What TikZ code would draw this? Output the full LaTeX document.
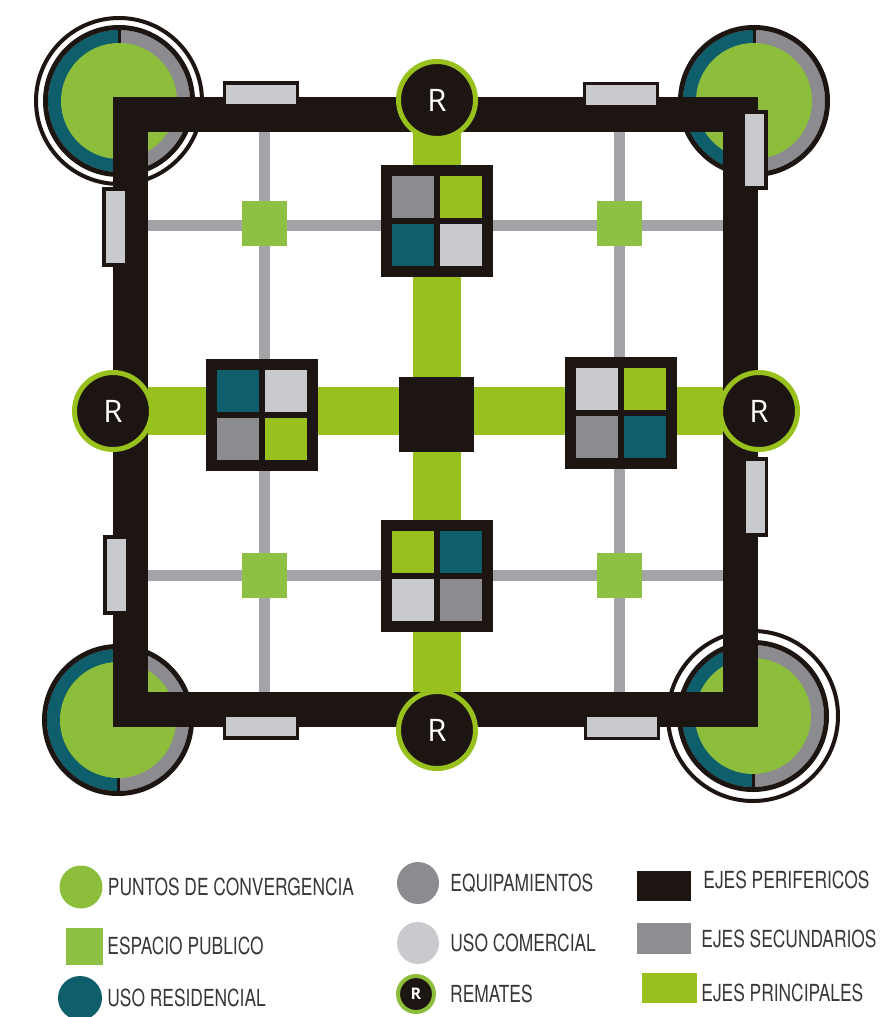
\documentclass[tikz,border=0pt]{standalone}
\usepackage{fontspec}
\newfontfamily\legendfont{TeX Gyre Heros}[FakeStretch=0.74]
\newfontfamily\rfont{Open Sans}
\usetikzlibrary{calc,positioning}
\definecolor{ink}{HTML}{1D1512}
\definecolor{convgreen}{HTML}{8CBE3C}
\definecolor{parkgreen}{HTML}{8DC043}
\definecolor{axisgreen}{HTML}{98C11E}
\definecolor{resteal}{HTML}{0F5E6B}
\definecolor{equipgrey}{HTML}{8C8B90}
\definecolor{comgrey}{HTML}{C9CACE}
\definecolor{linegrey}{HTML}{A4A3A8}
\definecolor{secgrey}{HTML}{8E8E92}
\definecolor{legink}{HTML}{383838}

\tikzset{
  remate/.style={circle, draw=axisgreen, line width=5pt, fill=ink, minimum size=77pt,
    inner sep=0pt, text=white, font=\rfont\fontsize{31}{31}\selectfont},
  quad/.style={rectangle, fill=ink, minimum size=112pt, inner sep=0pt},
  cell/.style={rectangle, fill=#1, minimum size=42pt, inner sep=0pt},
  pubsq/.style={rectangle, fill=parkgreen, minimum size=45pt, inner sep=0pt},
  core/.style={rectangle, fill=ink, minimum size=75pt, inner sep=0pt},
  tabh/.style={rectangle, draw=ink, line width=3.5pt, fill=comgrey,
    minimum width=73pt, minimum height=23pt, inner sep=0pt},
  tabv/.style={rectangle, draw=ink, line width=3.5pt, fill=comgrey,
    minimum width=22.5pt, minimum height=76pt, inner sep=0pt},
  mainaxis/.style={axisgreen, line width=48pt},
  secaxis/.style={linegrey, line width=11pt},
  legtext/.style={font=\legendfont\fontsize{23.5}{23.5}\selectfont, text=legink, inner sep=0pt},
}

% block of four uses: name, centre, top left, top right, bottom left, bottom right
\newcommand{\quadblock}[6]{%
  \node[quad] (#1) at (#2) {};
  \node[cell=#3] (#1-tl) at ($(#1)+(-24,-24)$) {};
  \node[cell=#4] (#1-tr) at ($(#1)+(24,-24)$) {};
  \node[cell=#5] (#1-bl) at ($(#1)+(-24,24)$) {};
  \node[cell=#6] (#1-br) at ($(#1)+(24,24)$) {};
}

% convergence point at a corner of the frame
\newcommand{\convpoint}[1]{%
  \fill[equipgrey] (#1) circle[radius=71];
  \begin{scope}
    \clip (#1) ++(-72,-72) rectangle ++(72,144);
    \fill[resteal] (#1) circle[radius=71];
  \end{scope}
  \draw[ink, line width=3pt] (#1) ++(0,-72) -- ++(0,144);
  \fill[convgreen] (#1) circle[radius=58];
  \draw[ink, line width=5pt] (#1) circle[radius=73.5];
}

\begin{document}
\begin{tikzpicture}[x=1pt, y=-1pt]
  \fill[white] (0,0) rectangle (896,1017);
  \useasboundingbox (0,0) rectangle (896,1017);

  % corners
  \coordinate (TL) at (119,101);
  \coordinate (TR) at (754,101);
  \coordinate (BL) at (118,720);
  \coordinate (BR) at (753,716);
  \convpoint{TL}
  \convpoint{TR}
  \convpoint{BL}
  \convpoint{BR}
  \draw[ink, line width=4pt] (TL) circle[radius=83];
  \draw[ink, line width=4pt] (BR) circle[radius=85];

  % secondary axes
  \coordinate (s1a) at (264,114);  \coordinate (s1b) at (264,710);
  \coordinate (s2a) at (619,114);  \coordinate (s2b) at (619,710);
  \coordinate (s3a) at (130,225);  \coordinate (s3b) at (740,225);
  \coordinate (s4a) at (130,575);  \coordinate (s4b) at (740,575);
  \draw[secaxis] (s1a) -- (s1b);
  \draw[secaxis] (s2a) -- (s2b);
  \draw[secaxis] (s3a) -- (s3b);
  \draw[secaxis] (s4a) -- (s4b);

  % main axes
  \coordinate (pTop) at (437,100);
  \coordinate (pBot) at (437,730);
  \coordinate (pLeft) at (113,411);
  \coordinate (pRight) at (759,411);
  \draw[mainaxis] (pTop) -- (pBot);
  \draw[mainaxis] (pLeft) -- (pRight);

  % peripheral frame
  \draw[ink, line width=35pt] (130.5,114) rectangle (740,709.5);

  \node[tabh] (tabTL) at (261,94.5) {};
  \node[tabh] (tabTR) at (621,95) {};
  \node[tabv] (tabLU) at (115,227) {};
  \node[tabv] (tabRU) at (754.5,150) {};
  \node[tabv] (tabLL) at (116,575) {};
  \node[tabv] (tabRL) at (755,497) {};
  \node[tabh] (tabBL) at (261,726.5) {};
  \node[tabh] (tabBR) at (622,727) {};

  % public space
  \node[pubsq] (pub1) at (264,223) {};
  \node[pubsq] (pub2) at (619,223) {};
  \node[pubsq] (pub3) at (264,575) {};
  \node[pubsq] (pub4) at (619,575) {};

  \node[core] (core) at (436,414) {};

  \quadblock{qTop}{437,221}{equipgrey}{axisgreen}{resteal}{comgrey}
  \quadblock{qLeft}{262,415}{resteal}{comgrey}{equipgrey}{axisgreen}
  \quadblock{qRight}{621,413}{comgrey}{axisgreen}{equipgrey}{resteal}
  \quadblock{qBot}{437,576}{axisgreen}{resteal}{comgrey}{equipgrey}

  \node[remate] (Rtop) at (pTop) {R};
  \node[remate] (Rbot) at (pBot) {R};
  \node[remate] (Rleft) at (pLeft) {R};
  \node[remate] (Rright) at (pRight) {R};

  % legend
  \node[circle, fill=convgreen, minimum size=43pt, inner sep=0pt] (lgConv) at (81,887) {};
  \node[legtext, right=5pt of lgConv] (txConv) {PUNTOS DE CONVERGENCIA};
  \node[rectangle, fill=parkgreen, minimum size=37pt, inner sep=0pt] (lgPub) at (84.5,946) {};
  \node[legtext, right=4pt of lgPub] (txPub) {ESPACIO PUBLICO};
  \node[circle, fill=resteal, minimum size=44pt, inner sep=0pt] (lgRes) at (80,998) {};
  \node[legtext, right=5pt of lgRes] (txRes) {USO RESIDENCIAL};

  \node[circle, fill=equipgrey, minimum size=42pt, inner sep=0pt] (lgEq) at (418,883) {};
  \node[legtext, right=11pt of lgEq] (txEq) {EQUIPAMIENTOS};
  \node[circle, fill=comgrey, minimum size=42pt, inner sep=0pt] (lgCom) at (418,943) {};
  \node[legtext, right=11pt of lgCom] (txCom) {USO COMERCIAL};
  \node[circle, fill=ink, draw=convgreen, line width=4pt, minimum size=36pt, inner sep=0pt,
    text=white, font=\rfont\bfseries\fontsize{16}{16}\selectfont] (lgRem) at (416,994) {R};
  \node[legtext, right=14pt of lgRem] (txRem) {REMATES};

  \node[rectangle, fill=ink, minimum width=54pt, minimum height=30pt, inner sep=0pt] (lgPer) at (664,886) {};
  \node[legtext, right=12pt of lgPer, yshift=6pt] (txPer) {EJES PERIFERICOS};
  \node[rectangle, fill=secgrey, minimum width=54pt, minimum height=31pt, inner sep=0pt] (lgSec) at (664,938.5) {};
  \node[legtext, right=10pt of lgSec] (txSec) {EJES SECUNDARIOS};
  \node[rectangle, fill=axisgreen, minimum width=55pt, minimum height=30pt, inner sep=0pt] (lgPri) at (669.5,988) {};
  \node[legtext, right=4pt of lgPri, yshift=-5pt] (txPri) {EJES PRINCIPALES};
\end{tikzpicture}
\end{document}
